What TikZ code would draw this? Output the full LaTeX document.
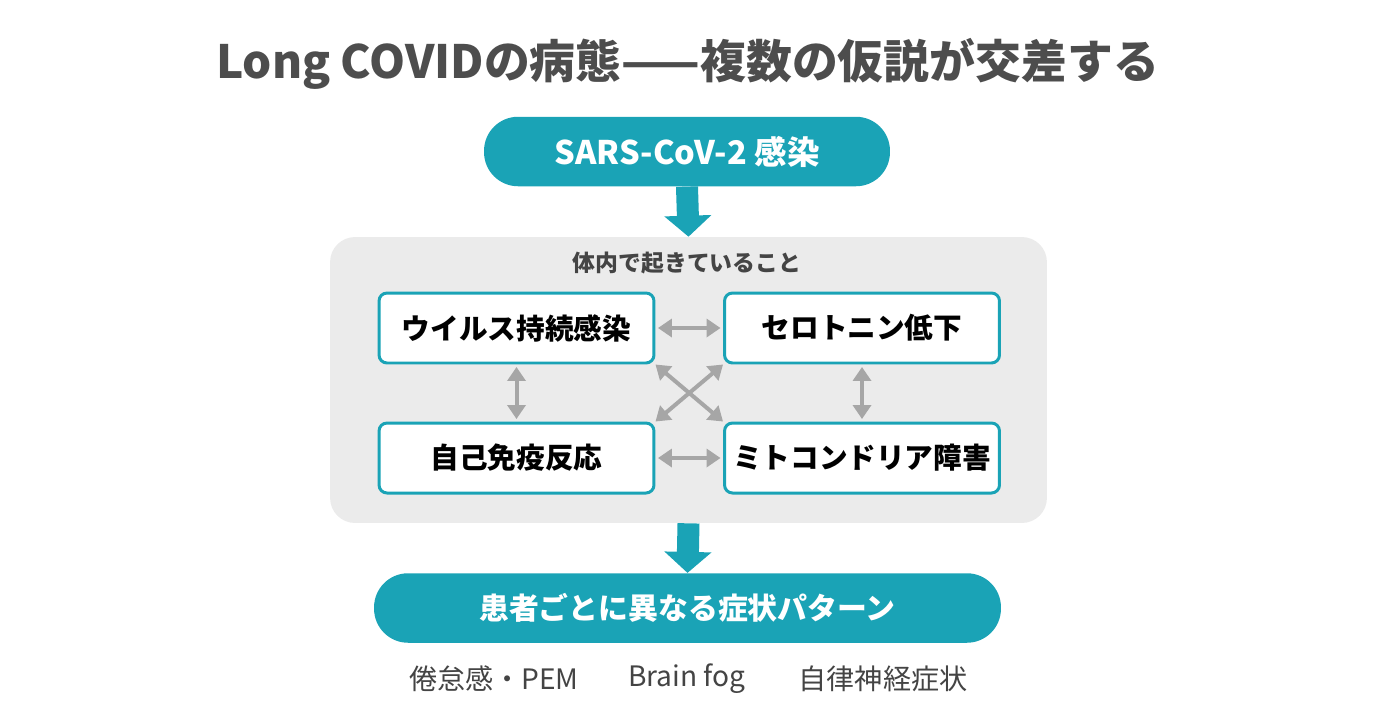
\documentclass[tikz,border=0pt]{standalone}
\usepackage{fontspec}
\setmainfont{Noto Sans CJK JP}
\usetikzlibrary{arrows.meta, positioning}

\definecolor{covidteal}{HTML}{1AA3B6}
\definecolor{panelgray}{HTML}{EBEBEB}
\definecolor{linkgray}{HTML}{A6A6A6}
\definecolor{titlegray}{HTML}{4D4D4D}
\definecolor{notegray}{HTML}{444444}

\tikzset{
  pill/.style={rounded corners=0.68cm, fill=covidteal, text=white, inner sep=0pt,
    minimum height=1.39cm, font=\fontsize{17}{20}\selectfont\bfseries},
  mechbox/.style={rounded corners=0.16cm, draw=covidteal, line width=1.7pt, fill=white,
    minimum width=5.5cm, minimum height=1.4cm, inner sep=0pt,
    font=\fontsize{16.3}{19}\selectfont\bfseries},
  flowarrow/.style={covidteal, line width=0.44cm, -{Triangle[length=0.42cm, width=0.92cm]}},
  linkarrow/.style={linkgray, line width=0.08cm,
    {Triangle[length=0.28cm, width=0.36cm]}-{Triangle[length=0.28cm, width=0.36cm]},
    shorten <=0.05cm, shorten >=0.05cm},
  symptom/.style={text=notegray, font=\fontsize{16}{19}\selectfont}
}

\begin{document}
\begin{tikzpicture}[x=0.02cm, y=-0.02cm]
\useasboundingbox (0,0) rectangle (1376,725);

% Title
\node[text=titlegray, font=\fontsize{26.1}{31}\selectfont\bfseries] (title) at (687.5,64)
  {Long COVIDの病態——複数の仮説が交差する};

% Infection
\node[pill, minimum width=8.12cm, font=\fontsize{18.5}{22}\selectfont\bfseries] (infection)
  at (687,151.5) {SARS-CoV-2 感染};

% Panel with mechanisms
\node[fill=panelgray, rounded corners=0.5cm, minimum width=14.34cm, minimum height=5.72cm,
  inner sep=0pt] (inner) at (688.5,380) {};
\node[text=notegray, font=\fontsize{13}{16}\selectfont\bfseries] (innerlabel) at (687,263)
  {体内で起きていること};

\node[mechbox] (persist) at (516.5,328) {ウイルス持続感染};
\node[mechbox] (serotonin) at (862,328) {セロトニン低下};
\node[mechbox] (autoimmune) at (516.5,458) {自己免疫反応};
\node[mechbox] (mito) at (862,458) {ミトコンドリア障害};

% Links
\draw[linkarrow] (persist) -- (serotonin);
\draw[linkarrow] (autoimmune) -- (mito);
\draw[linkarrow] (persist) -- (autoimmune);
\draw[linkarrow] (serotonin) -- (mito);
\draw[linkarrow, shorten <=0pt, shorten >=0pt] (persist.south east) -- (mito.north west);
\draw[linkarrow, shorten <=0pt, shorten >=0pt] (autoimmune.north east) -- (serotonin.south west);

% Symptoms
\node[pill, minimum width=12.54cm] (symptoms) at (687.5,608) {患者ごとに異なる症状パターン};

\draw[flowarrow] (infection.south) -- (inner.north);
\draw[flowarrow] (inner.south) -- (symptoms.north);

% Examples
\node[symptom] (fatigue) at (494,679) {倦怠感・PEM};
\node[symptom] (brainfog) at (687,679) {Brain fog};
\node[symptom] (autonomic) at (883,679) {自律神経症状};

\end{tikzpicture}
\end{document}
